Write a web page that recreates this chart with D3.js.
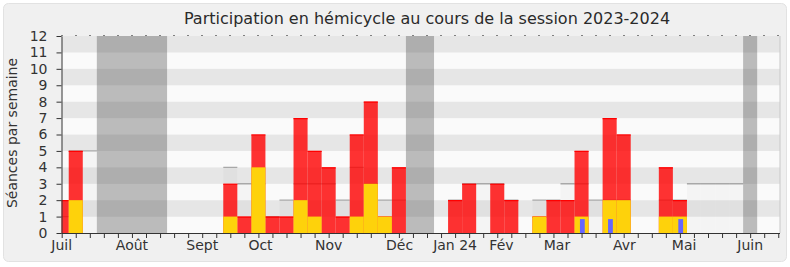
<!DOCTYPE html>
<html>
<head>
<meta charset="utf-8">
<script src="https://cdn.jsdelivr.net/npm/d3@7"></script>
<style>
  body { margin: 0; background: #fff; }
  text { font-family: "DejaVu Sans", sans-serif; }
</style>
</head>
<body>
<div id="chart"></div>
<script>
// une valeur par semaine, de juillet 2023 a juin 2024
var presences = [2,5,0,0,0,0,0,0,0,0,0,0, 3,1,6,1,1,7,5,4,1,6,8,1,4, 0,0,0,2,3,0,3,2,0,1,2,2,5,0, 7,6,0,0,4,2,0,0,0,0,0,0,0]
var participations = [0,2,0,0,0,0,0,0,0,0,0,0, 1,0,4,0,0,2,1,0,0,1,3,1,0, 0,0,0,0,0,0,0,0,0,1,0,0,1,0, 2,2,0,0,1,1,0,0,0,0,0,0,0]
var questions = [0,0,0,0,0,0,0,0,0,0,0,0, 0,0,0,0,0,0,0,0,0,0,0,0,0, 0,0,0,0,0,0,0,0,0,0,0,0,1,0, 1,0,0,0,0,1,0,0,0,0,0,0,0]
var medianes = [1,5,5,0,0,0,0,0,0,0,0,0, 4,3,3,1,2,3,3,3,2,4,3,2,2, 0,0,0,2,3,3,3,2,0,2,2,3,3,2, 2,2,0,0,2,2,3,3,3,3,0,0,0]
var vacances = [[3, 7], [25, 26], [49, 49]]
var moisLabels = ["Juil", "Août", "Sept", "Oct", "Nov", "Déc", "Jan 24", "Fév", "Mar", "Avr", "Mai", "Juin"]
var moisSemaines = [0, 5, 10, 14.15, 19, 24.05, 28, 31.3, 35.25, 40.05, 44.3, 49]
var yTicks = [0,1,2,3,4,5,6,7,8,9,10,11,12]

var width = 790, height = 267
var plot = {left: 61.5, right: 780, top: 36, bottom: 233}

var svg = d3.select("#chart").append("svg")
    .attr("width", width)
    .attr("height", height)

svg.append("rect")
    .attr("x", 3.5).attr("y", 3.5)
    .attr("width", 783).attr("height", 258)
    .attr("rx", 5)
    .attr("fill", "#f0f0f0")
    .attr("stroke", "#e2e2e2")

var nbSemaines = presences.length
var x = d3.scaleLinear()
    .domain([0, nbSemaines - 1])
    .range([61.7, 61.7 + 14.05 * (nbSemaines - 1)])
var y = d3.scaleLinear()
    .domain([0, 12])
    .range([plot.bottom, plot.top])

// garder l'indice de semaine avec chaque valeur
var semaines = function (arr) {
    return arr.map(function (v, i) { return {i: i, v: v} }).filter(d => d.v > 0)
}

svg.append("clipPath").attr("id", "clip")
    .append("rect")
    .attr("x", plot.left).attr("y", plot.top)
    .attr("width", plot.right - plot.left).attr("height", plot.bottom - plot.top)

var g = svg.append("g").attr("clip-path", "url(#clip)")

// bandes de fond
g.selectAll("rect.band")
    .data(yTicks.slice(0, 12))
    .enter().append("rect")
    .attr("x", plot.left)
    .attr("width", plot.right - plot.left)
    .attr("y", d => y(d + 1))
    .attr("height", d => y(d) - y(d + 1))
    .attr("fill", d => d % 2 ? "#e6e6e6" : "#fafafa")

// mediane des deputes
g.selectAll("rect.med")
    .data(semaines(medianes))
    .enter().append("rect")
    .attr("x", d => x(d.i - 0.5))
    .attr("width", d => x(d.i + 0.5) - x(d.i - 0.5))
    .attr("y", d => y(d.v))
    .attr("height", d => y(0) - y(d.v))
    .attr("fill", "#000")
    .attr("opacity", 0.025)

g.selectAll("line.med")
    .data(semaines(medianes))
    .enter().append("line")
    .attr("x1", d => x(d.i - 0.5))
    .attr("x2", d => x(d.i + 0.5))
    .attr("y1", d => y(d.v))
    .attr("y2", d => y(d.v))
    .attr("stroke", "#a8a8a8")
    .attr("stroke-width", 1.3)

// vacances
g.selectAll("rect.vac")
    .data(vacances)
    .enter().append("rect")
    .attr("x", d => x(d[0] - 0.5))
    .attr("width", d => x(d[1] + 0.5) - x(d[0] - 0.5))
    .attr("y", plot.top)
    .attr("height", plot.bottom - plot.top)
    .attr("fill", "#444")
    .attr("opacity", 0.35)

// presences
g.selectAll("rect.pres")
    .data(semaines(presences))
    .enter().append("rect")
    .attr("x", d => x(d.i - 0.5))
    .attr("width", d => x(d.i + 0.5) - x(d.i - 0.5))
    .attr("y", d => y(d.v))
    .attr("height", d => y(0) - y(d.v))
    .attr("fill", "#ff0000")
    .attr("opacity", 0.8)

g.selectAll("line.pres")
    .data(semaines(presences))
    .enter().append("line")
    .attr("x1", d => x(d.i - 0.5))
    .attr("x2", d => x(d.i + 0.5))
    .attr("y1", d => y(d.v) + 0.5)
    .attr("y2", d => y(d.v) + 0.5)
    .attr("stroke", "#ff0000")
    .attr("stroke-width", 1.2)

// participations
g.selectAll("rect.part")
    .data(semaines(participations))
    .enter().append("rect")
    .attr("x", d => x(d.i - 0.5))
    .attr("width", d => x(d.i + 0.5) - x(d.i - 0.5))
    .attr("y", d => y(d.v))
    .attr("height", d => y(0) - y(d.v))
    .attr("fill", "#fed20b")

// questions orales
g.selectAll("rect.quest")
    .data(semaines(questions))
    .enter().append("rect")
    .attr("x", d => x(d.i) - 1.6)
    .attr("width", 4.8)
    .attr("y", d => y(d.v) + 2.5)
    .attr("height", d => y(0) - y(d.v) - 2.5)
    .attr("fill", "#6666ff")

// bord droit
svg.append("line")
    .attr("x1", plot.right).attr("x2", plot.right)
    .attr("y1", plot.top).attr("y2", plot.bottom)
    .attr("stroke", "#c8c8c8")

// petits reperes en haut
svg.selectAll("rect.dot")
    .data(presences)
    .enter().append("rect")
    .attr("x", (d, i) => Math.round(x(i)) - 0.5)
    .attr("y", plot.top - 1)
    .attr("width", 1).attr("height", 1)
    .attr("fill", "#111")

// axe x
var xAxis = svg.append("g")
    .attr("transform", `translate(0, ${plot.bottom})`)
    .call(d3.axisBottom(x).tickValues(d3.range(nbSemaines)).tickSize(5).tickSizeOuter(0).tickFormat(""))
xAxis.select(".domain").attr("d", `M${plot.left},0.5H${plot.right}`).attr("stroke", "#333")
xAxis.selectAll(".tick line").attr("stroke", "#333")

svg.selectAll("text.mois")
    .data(moisLabels)
    .enter().append("text")
    .attr("x", (d, i) => x(moisSemaines[i]))
    .attr("y", 250)
    .attr("text-anchor", "middle")
    .attr("font-size", 14)
    .attr("fill", "#333")
    .text(d => d)

// axe y
var yAxis = svg.append("g")
    .attr("transform", `translate(${plot.left}, 0)`)
    .call(d3.axisLeft(y).tickValues(yTicks).tickSize(5).tickSizeOuter(0).tickPadding(9))
yAxis.select(".domain").attr("stroke", "#333")
yAxis.selectAll(".tick line").attr("stroke", "#333")
yAxis.selectAll(".tick text")
    .attr("font-size", 14)
    .attr("font-family", "DejaVu Sans")
    .attr("fill", "#333")

svg.append("text")
    .attr("transform", "rotate(-90)")
    .attr("x", -133)
    .attr("y", 17)
    .attr("text-anchor", "middle")
    .attr("font-size", 14)
    .attr("fill", "#333")
    .text("Séances par semaine")

svg.append("text")
    .attr("x", 427)
    .attr("y", 24)
    .attr("text-anchor", "middle")
    .attr("font-size", 16)
    .attr("fill", "#2a2a2a")
    .text("Participation en hémicycle au cours de la session 2023-2024")
</script>
</body>
</html>
